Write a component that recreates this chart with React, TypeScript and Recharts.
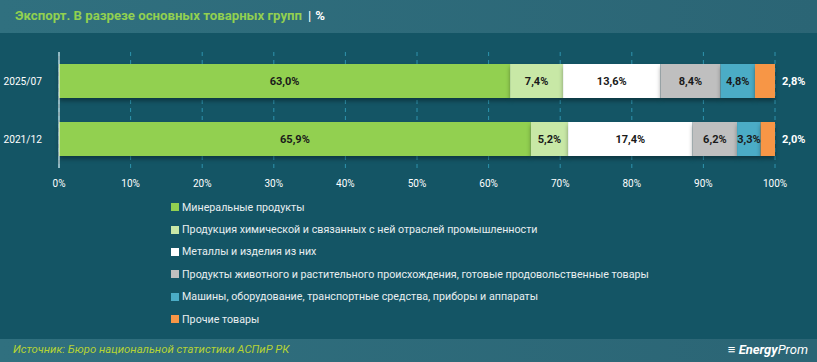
import React from 'react';
import { BarChart, Bar, XAxis, YAxis, CartesianGrid, LabelList } from 'recharts';

const categories = ['2025/07', '2021/12'];
const seriesNames = [
  'Минеральные продукты',
  'Продукция химической и связанных с ней отраслей промышленности',
  'Металлы и изделия из них',
  'Продукты животного и растительного происхождения, готовые продовольственные товары',
  'Машины, оборудование, транспортные средства, приборы и аппараты',
  'Прочие товары',
];
const seriesColors = ['#92d050', '#c8e8a6', '#ffffff', '#bfbfbf', '#4bacc6', '#f79646'];
const mineral = [63.0, 65.9];
const chemical = [7.4, 5.2];
const metals = [13.6, 17.4];
const food = [8.4, 6.2];
const machines = [4.8, 3.3];
const other = [2.8, 2.0];
const xTicks = [0, 10, 20, 30, 40, 50, 60, 70, 80, 90, 100];

const seriesValues = [mineral, chemical, metals, food, machines, other];
const keys = ['s0', 's1', 's2', 's3', 's4', 's5'];
const data = categories.map((c, i) => {
  const row: any = { cat: c };
  seriesValues.forEach((vals, k) => {
    row[keys[k]] = vals[i];
  });
  return row;
});

const fmt = (v: any) => Number(v).toFixed(1).replace('.', ',') + '%';
const font = 'Roboto, "Open Sans", sans-serif';

export default function App() {
  return (
    <div
      style={{
        position: 'absolute',
        left: 0,
        top: 0,
        width: 817,
        height: 362,
        background: '#145565',
        fontFamily: font,
        overflow: 'hidden',
      }}
    >
      <div
        style={{
          position: 'absolute',
          left: 0,
          top: 0,
          width: 817,
          height: 33,
          background: 'linear-gradient(90deg, #30707f 0%, #2b6575 100%)',
        }}
      >
        <div style={{ position: 'absolute', left: 15, top: 8, fontSize: 13.2, fontWeight: 700, color: '#92d050', whiteSpace: 'nowrap' }}>
          Экспорт. В разрезе основных товарных групп
          <span style={{ color: '#ffffff', fontWeight: 400, marginLeft: 6 }}>|</span>
          <span style={{ color: '#ffffff', fontWeight: 700, marginLeft: 4 }}>%</span>
        </div>
      </div>

      <div style={{ position: 'absolute', left: 0, top: 0 }}>
        <BarChart
          width={817}
          height={200}
          data={data}
          layout="vertical"
          margin={{ top: 52, right: 42, bottom: 2, left: 0 }}
          barCategoryGap={12}
        >
          <CartesianGrid horizontal={false} vertical stroke="#2e93ad" strokeDasharray="4 4" />
          <XAxis
            type="number"
            domain={[0, 100]}
            ticks={xTicks}
            tickFormatter={(v) => v + '%'}
            axisLine={false}
            tickLine={false}
            tick={{ fill: '#ffffff', fontSize: 10, fontFamily: font }}
            tickMargin={6}
            height={30}
          />
          <YAxis
            type="category"
            dataKey="cat"
            width={59}
            axisLine={{ stroke: '#ffffff', strokeWidth: 1 }}
            tickLine={false}
            tick={{ fill: '#ffffff', fontSize: 10.2, fontFamily: font }}
            tickMargin={11}
          />
          {keys.map((k, idx) => (
            <Bar
              key={k}
              dataKey={k}
              stackId="a"
              fill={seriesColors[idx]}
              isAnimationActive={false}
              style={{ filter: 'drop-shadow(0px 3px 2px rgba(0,0,0,0.35))' }}
            >
              {idx < keys.length - 1 ? (
                <LabelList
                  dataKey={k}
                  position="center"
                  formatter={fmt}
                  fill="#1a1a1a"
                  style={{ fontSize: 11, fontWeight: 700, fontFamily: font }}
                />
              ) : (
                <LabelList
                  dataKey={k}
                  position="right"
                  offset={7}
                  formatter={fmt}
                  fill="#ffffff"
                  style={{ fontSize: 11, fontWeight: 700, fontFamily: font }}
                />
              )}
            </Bar>
          ))}
        </BarChart>
      </div>

      <div style={{ position: 'absolute', left: 171, top: 196 }}>
        {seriesNames.map((name, i) => (
          <div key={name} style={{ height: 22.4, display: 'flex', alignItems: 'center', whiteSpace: 'nowrap' }}>
            <div style={{ width: 8, height: 8, background: seriesColors[i], marginRight: 3 }} />
            <span style={{ color: '#e8eef0', fontSize: 10.7 }}>{name}</span>
          </div>
        ))}
      </div>

      <div
        style={{
          position: 'absolute',
          left: 0,
          top: 339,
          width: 817,
          height: 23,
          background: 'linear-gradient(90deg, #30707f 0%, #2b6575 100%)',
        }}
      >
        <div style={{ position: 'absolute', left: 13, top: 4, fontSize: 11.3, fontStyle: 'italic', color: '#b6d334', whiteSpace: 'nowrap' }}>
          Источник: Бюро национальной статистики АСПиР РК
        </div>
        <div style={{ position: 'absolute', right: 9, top: 3, fontSize: 13, fontStyle: 'italic', color: '#ffffff', whiteSpace: 'nowrap' }}>
          <span style={{ fontWeight: 900 }}>≡ </span>
          <span style={{ fontWeight: 700 }}>Energy</span>
          <span style={{ fontWeight: 400 }}>Prom</span>
        </div>
      </div>
    </div>
  );
}
